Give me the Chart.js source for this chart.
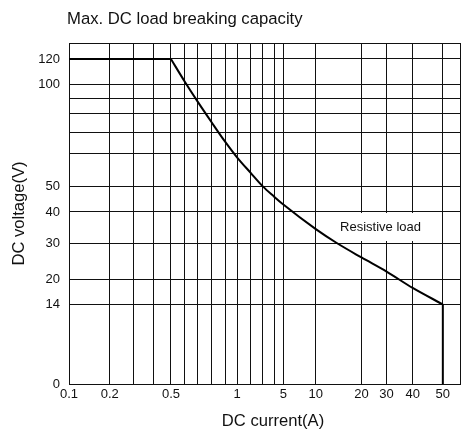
<!DOCTYPE html>
<html>
<head>
<meta charset="utf-8">
<script src="https://cdn.jsdelivr.net/npm/chart.js@4"></script>
<style>
  html, body { margin: 0; padding: 0; background: #fff; }
  canvas { display: block; }
</style>
</head>
<body>
<canvas id="chart" width="463" height="430"></canvas>
<script>
// 데이터 (DC current / DC voltage)
const flatCurrentA = [0.1, 0.5];
const flatVoltageV = [120, 120];
const currentA = [0.5, 0.6, 0.7, 0.8, 0.9, 1, 2, 3, 4, 5, 10, 14.5, 20, 30, 40, 50];
const voltageV = [120, 102.3, 87.4, 75.4, 65.6, 58.9, 54.1, 50, 46.0, 42.9, 34.6, 30.3, 26.1, 22.1, 17.9, 14];
const dropCurrentA = [50, 50];
const dropVoltageV = [14, 0];

// grid / tick values
const xGridValues = [0.1, 0.2, 0.3, 0.4, 0.5, 0.6, 0.7, 0.8, 0.9, 1, 2, 3, 4, 5, 10, 20, 30, 40, 50, 60];
const xTickLabels = [0.1, 0.2, 0.5, 1, 5, 10, 20, 30, 40, 50];
const yGridValues = [0, 14, 20, 30, 40, 50, 60, 70, 80, 90, 100, 120, 140];
const yTickLabels = [0, 14, 20, 30, 40, 50, 100, 120];

// where each grid value sits along the axis (0..1) - the paper is not a true log scale
const xGridPos = [0, 0.1041, 0.1642, 0.2157, 0.2607, 0.2962, 0.3299, 0.3647, 0.3992, 0.4302,
                  0.4652, 0.4957, 0.5246, 0.5482, 0.6312, 0.7480, 0.8122, 0.8789, 0.9561, 1];
const yGridPos = [0, 0.2334, 0.3079, 0.4114, 0.5044, 0.5795, 0.6745, 0.7390, 0.7918, 0.8387,
                  0.8777, 0.9531, 1];

const axisLayout = {
  x: { values: xGridValues, pos: xGridPos },
  y: { values: yGridValues, pos: yGridPos }
};

const FONT = 'Arial, "Liberation Sans", sans-serif';
const INK = '#111';

// piecewise-linear scale (hand drawn datasheet axis)
class PiecewiseScale extends Chart.LinearScale {
  determineDataLimits() {
    const v = axisLayout[this.id].values;
    this.min = v[0];
    this.max = v[v.length - 1];
  }
  buildTicks() {
    return axisLayout[this.id].values.map(v => ({ value: v }));
  }
  getPixelForValue(value) {
    const { values: v, pos: p } = axisLayout[this.id];
    let i = 1;
    while (i < v.length - 1 && value > v[i]) i++;
    const t = (value - v[i - 1]) / (v[i] - v[i - 1]);
    return this.getPixelForDecimal(p[i - 1] + t * (p[i] - p[i - 1]));
  }
  getValueForPixel(pixel) {
    const { values: v, pos: p } = axisLayout[this.id];
    const d = this.getDecimalForPixel(pixel);
    let i = 1;
    while (i < p.length - 1 && d > p[i]) i++;
    const t = (d - p[i - 1]) / (p[i] - p[i - 1]);
    return v[i - 1] + t * (v[i] - v[i - 1]);
  }
}
PiecewiseScale.id = 'piecewise';
PiecewiseScale.defaults = {};
Chart.register(PiecewiseScale);

// title, x title + "Resistive load" label
const annotations = {
  id: 'annotations',
  beforeDatasetsDraw(chart) {
    const { ctx, scales: { x, y } } = chart;
    const l = Math.round(x.getPixelForValue(10)) + 1;
    const r = Math.round(x.getPixelForValue(50)) - 1;
    const t = Math.round(y.getPixelForValue(40)) + 1;
    const b = Math.round(y.getPixelForValue(30)) - 3;
    ctx.save();
    ctx.fillStyle = '#fff';
    ctx.fillRect(l, t, r - l, b - t);
    ctx.fillStyle = INK;
    ctx.font = '13px ' + FONT;
    ctx.textAlign = 'center';
    ctx.textBaseline = 'middle';
    ctx.fillText('Resistive load', (l + r) / 2 + 1, (t + b) / 2);
    ctx.restore();
  },
  afterDraw(chart) {
    const ctx = chart.ctx;
    ctx.save();
    ctx.fillStyle = INK;
    ctx.font = '16.7px ' + FONT;
    ctx.textAlign = 'left';
    ctx.textBaseline = 'alphabetic';
    ctx.fillText('Max. DC load breaking capacity', 67, 23.5);
    ctx.font = '16.6px ' + FONT;
    ctx.textAlign = 'center';
    ctx.fillText('DC current(A)', 273, 425.7);
    ctx.restore();
  }
};

const lineStyle = {
  borderColor: '#000',
  borderWidth: 2,
  pointRadius: 0,
  fill: false
};

const toPoints = (xs, ys) => xs.map((c, i) => ({ x: c, y: ys[i] }));

const data = {
  datasets: [
    { ...lineStyle, data: toPoints(flatCurrentA, flatVoltageV) },
    { ...lineStyle, data: toPoints(currentA, voltageV), cubicInterpolationMode: 'monotone' },
    { ...lineStyle, data: toPoints(dropCurrentA, dropVoltageV) }
  ]
};

const options = {
  responsive: false,
  animation: false,
  layout: { padding: { top: 43, left: 0, right: 0, bottom: 0 } },
  plugins: {
    legend: { display: false },
    tooltip: { enabled: false },
    title: { display: false }
  },
  scales: {
    x: {
      type: 'piecewise',
      afterFit(scale) { scale.height = 46; },
      grid: { color: INK, lineWidth: 1, drawTicks: false },
      border: { color: INK, width: 1 },
      ticks: {
        autoSkip: false, maxRotation: 0, minRotation: 0, padding: 3,
        color: INK, font: { family: FONT, size: 13 },
        callback: (v) => xTickLabels.includes(v) ? String(v) : ''
      }
    },
    y: {
      type: 'piecewise',
      afterFit(scale) { scale.width = 69; },
      grid: { color: INK, lineWidth: 1, drawTicks: false },
      border: { color: INK, width: 1 },
      ticks: {
        autoSkip: false, padding: 9,
        color: INK, font: { family: FONT, size: 13 },
        callback: (v) => yTickLabels.includes(v) ? String(v) : ''
      },
      title: {
        display: true, text: 'DC voltage(V)', color: INK,
        font: { family: FONT, size: 16.6 }, padding: { top: 9, bottom: 0 }
      }
    }
  }
};

function createDrawChart(ctx, chart_type, data, options) {
  return new Chart(ctx, {
    type: chart_type,
    data: data,
    options: options,
    plugins: [annotations]
  });
}

createDrawChart(document.getElementById('chart'), 'line', data, options);
</script>
</body>
</html>
